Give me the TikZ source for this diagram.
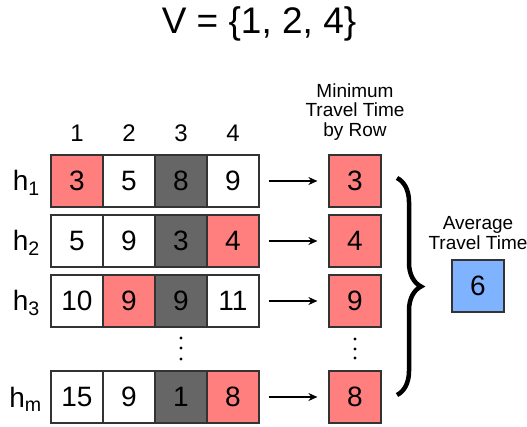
\documentclass[tikz,border=0pt]{standalone}
\usepackage{fontspec}
\setmainfont{Liberation Sans}
\usetikzlibrary{decorations.pathreplacing,arrows.meta}
\definecolor{cred}{HTML}{FF7F7F}
\definecolor{cgray}{HTML}{666666}
\definecolor{cblue}{HTML}{7FB2FF}
\definecolor{cline}{HTML}{333333}
\tikzset{
  cell/.style={draw=cline, line width=1.2pt, minimum width=52pt, minimum height=52pt, inner sep=0pt, font=\fontsize{28}{30}\selectfont, anchor=center},
  wcell/.style={cell, fill=white},
  rcell/.style={cell, fill=cred},
  gcell/.style={cell, fill=cgray},
  bcell/.style={cell, fill=cblue},
  hlab/.style={anchor=east, font=\fontsize{28}{30}\selectfont, inner sep=0pt},
  colhead/.style={font=\fontsize{24}{26}\selectfont, inner sep=0pt},
  caption/.style={align=center, font=\fontsize{19}{19.5}\selectfont, inner sep=0pt},
  arr/.style={-{Stealth[length=9pt,width=8pt]}, line width=1.3pt},
  dot/.style={circle, fill=black, inner sep=0pt, minimum size=3.2pt},
}
\begin{document}
\begin{tikzpicture}[x=1pt,y=-1pt]
\useasboundingbox (0,0) rectangle (527,427);
\node[font=\fontsize{37}{40}\selectfont, inner sep=0pt] (title) at (259,24) {V = \{1, 2, 4\}};
% column headers
\node[colhead] (c1) at (77,133) {1};
\node[colhead] (c2) at (129,133) {2};
\node[colhead] (c3) at (181,133) {3};
\node[colhead] (c4) at (233,133) {4};
\node[caption] (mincap) at (355,112) {Minimum\\Travel Time\\by Row};
% rows
\node[rcell] (r1c1) at (77,181) {3};
\node[wcell] (r1c2) at (129,181) {5};
\node[gcell] (r1c3) at (181,181) {8};
\node[wcell] (r1c4) at (233,181) {9};
\node[wcell] (r2c1) at (77,241) {5};
\node[wcell] (r2c2) at (129,241) {9};
\node[gcell] (r2c3) at (181,241) {3};
\node[rcell] (r2c4) at (233,241) {4};
\node[wcell] (r3c1) at (77,301) {10};
\node[rcell] (r3c2) at (129,301) {9};
\node[gcell] (r3c3) at (181,301) {9};
\node[wcell] (r3c4) at (233,301) {11};
\node[wcell] (r4c1) at (77,397) {15};
\node[wcell] (r4c2) at (129,397) {9};
\node[gcell] (r4c3) at (181,397) {1};
\node[rcell] (r4c4) at (233,397) {8};
% row labels
\node[hlab] (h1) at (40,183) {h\textsubscript{1}};
\node[hlab] (h2) at (40,243) {h\textsubscript{2}};
\node[hlab] (h3) at (40,303) {h\textsubscript{3}};
\node[hlab] (hm) at (42,399) {h\textsubscript{m}};
% min boxes
\node[rcell] (m1) at (355,181) {3};
\node[rcell] (m2) at (355,241) {4};
\node[rcell] (m3) at (355,301) {9};
\node[rcell] (m4) at (355,397) {8};
% vdots
\node[dot] (d1) at (181,338) {};
\node[dot] (d2) at (181,348) {};
\node[dot] (d3) at (181,359) {};
\node[dot] (e1) at (355,339) {};
\node[dot] (e2) at (355,349) {};
\node[dot] (e3) at (355,358) {};
% arrows
\foreach \i in {1,2,3,4}{
  \draw[arr] ([xshift=9pt]r\i c4.east) -- ([xshift=-11pt]m\i.west);
}
% brace
\coordinate (bt) at (397,178);
\coordinate (bb) at (397,395);
\draw[decorate, decoration={brace, amplitude=24pt}, line width=4.5pt] (bt) -- (bb);
% average
\node[caption] (avgcap) at (478,233) {Average\\Travel Time};
\node[bcell] (avg) at (478,286) {6};
\end{tikzpicture}
\end{document}
